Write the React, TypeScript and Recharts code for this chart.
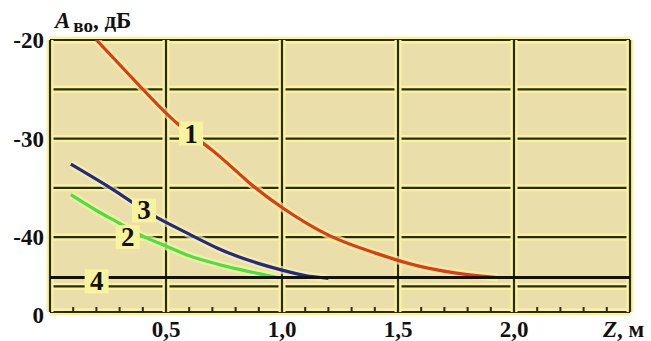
import React from 'react';
import { LineChart, Line, XAxis, YAxis, CartesianGrid, ReferenceDot, ReferenceLine, Label } from 'recharts';

// Curve 1 (red)
const RED_Z = [0.2, 0.4, 0.55, 0.7, 0.85, 1.0, 1.2, 1.4, 1.6, 1.8, 1.93];
const RED_A = [-20, -25, -28.5, -31.2, -34.3, -37.0, -39.8, -41.6, -43.0, -43.8, -44.1];
// Curve 2 (green)
const GREEN_Z = [0.09, 0.2, 0.3, 0.4, 0.5, 0.6, 0.7, 0.8, 0.9, 0.98];
const GREEN_A = [-35.7, -37.3, -38.6, -39.9, -40.9, -41.9, -42.6, -43.2, -43.7, -44.1];
// Curve 3 (blue)
const BLUE_Z = [0.09, 0.26, 0.35, 0.46, 0.6, 0.72, 0.85, 1.0, 1.1, 1.2];
const BLUE_A = [-32.6, -35.0, -36.4, -38.0, -39.7, -41.1, -42.3, -43.35, -43.9, -44.2];
// Curve 4 (black, constant)
const BLACK_Z = [0, 2.5];
const BLACK_A = [-44.1, -44.1];

// Curve labels
const LABEL_TEXT = ['1', '2', '3', '4'];
const LABEL_Z = [0.608, 0.335, 0.405, 0.201];
const LABEL_A = [-29.5, -40.0, -37.3, -44.5];

// Axes
const X_GRID_TICKS = [0, 0.5, 1, 1.5, 2, 2.5];
const X_MINOR_TICKS = [0.1, 0.2, 0.3, 0.4, 0.5, 0.6, 0.7, 0.8, 0.9, 1.0, 1.1, 1.2, 1.3, 1.4, 1.5, 1.6, 1.7, 1.8, 1.9, 2.0, 2.1, 2.2, 2.3, 2.4];
const X_LABELS: Record<string, string> = { '0.5': '0,5', '1': '1,0', '1.5': '1,5', '2': '2,0' };
const Y_TICKS = [-47.6, -45, -40, -35, -30, -25, -20];
const Y_LABELS: Record<string, string> = { '-20': '-20', '-30': '-30', '-40': '-40', '-47.6': '0' };

const zip = (zs: number[], as: number[]) => zs.map((z, i) => ({ z, a: as[i] }));
const redData = zip(RED_Z, RED_A);
const greenData = zip(GREEN_Z, GREEN_A);
const blueData = zip(BLUE_Z, BLUE_A);
const blackData = zip(BLACK_Z, BLACK_A);

const FONT = '"Liberation Serif", "Times New Roman", serif';
const DARK = '#2A2A12';
const GLOW = '#FAF39E';
const CELL = '#EADFAA';

const XTick = (p: any) => {
  const v = p.payload.value;
  const key = String(Math.round(v * 10) / 10);
  const lbl = X_LABELS[key];
  return (
    <g>
      <line x1={p.x} x2={p.x} y1={p.y - 5} y2={p.y} stroke={DARK} strokeWidth={2} />
      {lbl ? (
        <text x={p.x} y={p.y + 25} textAnchor="middle" fontFamily={FONT} fontWeight="bold" fontSize={23} fill="#111">
          {lbl}
        </text>
      ) : null}
    </g>
  );
};

const YTick = (p: any) => {
  const v = p.payload.value;
  const lbl = Y_LABELS[String(v)];
  if (!lbl) return <g />;
  const bottom = v < -47;
  return (
    <text x={p.x} y={p.y + (bottom ? 11 : 8)} textAnchor="end" fontFamily={FONT} fontWeight="bold" fontSize={23} fill="#111">
      {lbl}
    </text>
  );
};

const LabelShape = (text: string) => (p: any) => (
  <g>
    <rect x={p.cx - 12} y={p.cy - 12} width={24} height={24} fill={GLOW} />
    <text x={p.cx} y={p.cy + 9} textAnchor="middle" fontFamily={FONT} fontWeight="bold" fontSize={27} fill="#111">
      {text}
    </text>
  </g>
);

export default function App() {
  return (
    <div style={{ position: 'absolute', left: 0, top: 0, width: 651, height: 341, background: '#fff' }}>
      <LineChart width={651} height={341} margin={{ top: 40, right: 21, left: 0, bottom: 0 }}>
        <CartesianGrid vertical={false} fill={CELL} stroke={GLOW} strokeWidth={7} />
        <CartesianGrid vertical={false} stroke={DARK} strokeWidth={2.2} />
        {X_GRID_TICKS.map((v) => (
          <ReferenceLine key={'g' + v} x={v} stroke={GLOW} strokeWidth={7} />
        ))}
        {X_GRID_TICKS.map((v) => (
          <ReferenceLine key={'d' + v} x={v} stroke={DARK} strokeWidth={2.2} />
        ))}
        <XAxis
          dataKey="z"
          type="number"
          domain={[0, 2.5]}
          ticks={X_MINOR_TICKS}
          interval={0}
          height={29}
          tickSize={0}
          tickMargin={0}
          tickLine={false}
          axisLine={false}
          tick={XTick}
          allowDataOverflow
        >
          <Label
            content={(props: any) => {
              const vb = props.viewBox;
              return (
                <text x={vb.x + vb.width - 27} y={vb.y + 25} fontFamily={FONT} fontWeight="bold" fontSize={23} fill="#111">
                  <tspan fontStyle="italic">Z</tspan>
                  <tspan>, м</tspan>
                </text>
              );
            }}
          />
        </XAxis>
        <YAxis
          type="number"
          domain={[-47.6, -20]}
          ticks={Y_TICKS}
          interval={0}
          width={50}
          tickSize={0}
          tickMargin={6}
          tickLine={false}
          axisLine={false}
          tick={YTick}
          allowDataOverflow
        >
          <Label
            content={() => (
              <text x={55} y={28} fontFamily={FONT} fontWeight="bold" fontSize={23} fill="#111">
                <tspan fontStyle="italic">A</tspan>
                <tspan fontSize={19} dx={3} dy={4}>во</tspan>
                <tspan dy={-4}>, дБ</tspan>
              </text>
            )}
          />
        </YAxis>

        <Line data={redData} dataKey="a" type="natural" stroke={GLOW} strokeOpacity={0.7} strokeWidth={8} dot={false} isAnimationActive={false} />
        <Line data={greenData} dataKey="a" type="natural" stroke={GLOW} strokeOpacity={0.7} strokeWidth={8} dot={false} isAnimationActive={false} />
        <Line data={blueData} dataKey="a" type="natural" stroke={GLOW} strokeOpacity={0.7} strokeWidth={8} dot={false} isAnimationActive={false} />

        <Line data={redData} dataKey="a" type="natural" stroke="#DC3A1C" strokeWidth={3.2} dot={false} isAnimationActive={false} />
        <Line data={blueData} dataKey="a" type="natural" stroke="#23298A" strokeWidth={3.2} dot={false} isAnimationActive={false} />
        <Line data={greenData} dataKey="a" type="natural" stroke="#47E047" strokeWidth={3.2} dot={false} isAnimationActive={false} />
        <Line data={blackData} dataKey="a" type="linear" stroke="#111" strokeWidth={3} dot={false} isAnimationActive={false} />

        {LABEL_TEXT.map((t, i) => (
          <ReferenceDot key={t} x={LABEL_Z[i]} y={LABEL_A[i]} r={12} shape={LabelShape(t)} />
        ))}
      </LineChart>
    </div>
  );
}
